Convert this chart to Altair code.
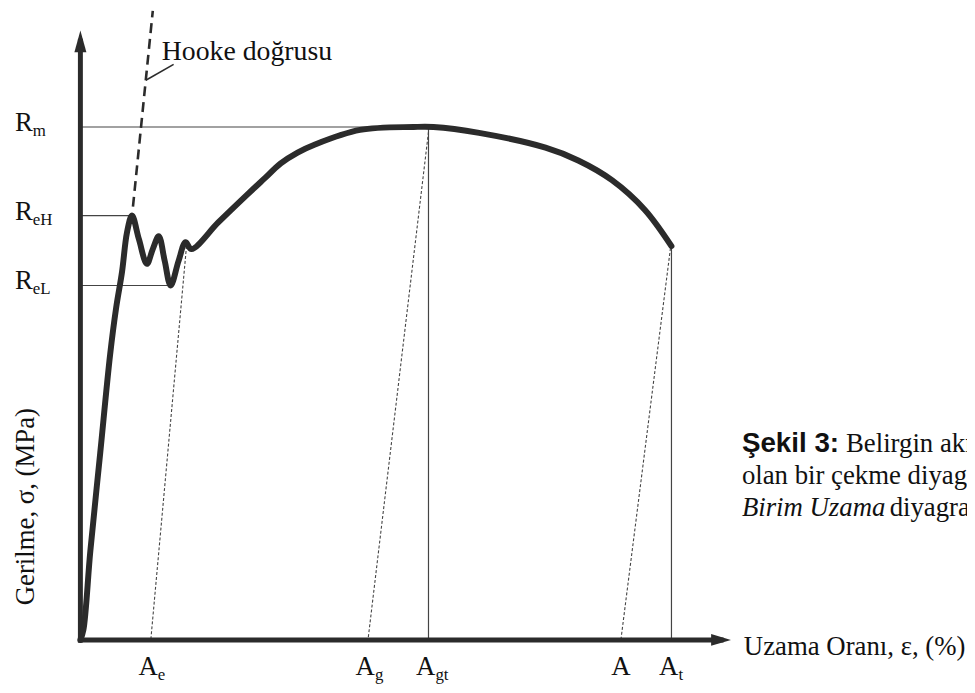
import altair as alt
import pandas as pd

# ---------------- data (strain, stress in arbitrary units) ----------------
strain = [0, 3, 10, 20, 30, 36, 42, 47, 52, 59, 67, 73, 79, 85, 91, 99, 106, 112,
          139, 169, 186, 202, 219, 236, 282, 336, 356, 402, 469, 502, 536, 569, 596]
stress = [0, 10, 90, 190, 290, 337, 374, 414, 431, 407, 382, 397, 410, 385, 360, 385, 404, 397,
          424, 453, 469, 484, 495, 503, 518, 521, 521, 515, 500, 487, 467, 437, 400]

# characteristic stresses
R_names = ["m", "eH", "eL"]
R_values = [521, 431, 360]
R_line_end = [351, 52, 91]

# characteristic elongations
A_names = ["e", "g", "gt", "", "t"]
A_values = [71, 290, 351, 545, 596]

# unloading (dashed) lines: start point on the curve -> elongation on axis
unload_top_strain = [107, 351, 595]
unload_top_stress = [400, 516, 398]
unload_bottom = [71, 290, 545]

# vertical solid lines (A_gt, A_t)
vert_x = [351, 596]
vert_top = [521, 400]

# Hooke line segment (dashed part)
hooke_strain = [53, 73]
hooke_stress = [440, 639]

# axis extents
X_AXIS_END = 646
Y_AXIS_END = 608

XS = alt.Scale(domain=[-73, 894], nice=False, zero=False)
YS = alt.Scale(domain=[-46, 639], nice=False, zero=False)

SERIF = "Liberation Serif"
SANS = "Liberation Sans"
INK = "#2b2b2b"
TXT = "#111"
FS = 27


def X(f):
    return alt.X(f, type="quantitative", scale=XS, axis=None)


def Y(f):
    return alt.Y(f, type="quantitative", scale=YS, axis=None)


curve_df = pd.DataFrame({"e": strain, "s": stress, "i": range(len(strain))})
hlines = pd.DataFrame({"y": R_values, "x2": R_line_end, "x1": [0] * 3, "n": R_names})
vlines = pd.DataFrame({"x": vert_x, "y2": vert_top, "y1": [0] * 2})
unload = pd.DataFrame({"xt": unload_top_strain, "yt": unload_top_stress,
                       "xb": unload_bottom, "yb": [0] * 3})
hooke = pd.DataFrame({"x1": [hooke_strain[0]], "x2": [hooke_strain[1]],
                      "y1": [hooke_stress[0]], "y2": [hooke_stress[1]]})
axes_df = pd.DataFrame({"x1": [0, 0], "x2": [X_AXIS_END, 0],
                        "y1": [0, 0], "y2": [0, Y_AXIS_END]})
arrow_y = pd.DataFrame({"x": [0], "y": [Y_AXIS_END]})
arrow_x = pd.DataFrame({"x": [X_AXIS_END], "y": [0]})
r_df = pd.DataFrame({"v": R_values, "sub": R_names, "main": ["R"] * 3})
a_df = pd.DataFrame({"v": A_values, "sub": A_names, "main": ["A"] * 5})
a_sub_df = a_df[a_df["sub"] != ""]
a_plain_df = a_df[a_df["sub"] == ""]

thin_h = alt.Chart(hlines).mark_rule(color="#444", strokeWidth=1.2).encode(
    x=X("x1"), x2="x2", y=Y("y"))
thin_v = alt.Chart(vlines).mark_rule(color="#444", strokeWidth=1.2).encode(
    x=X("x"), y=Y("y1"), y2="y2")
dashed = alt.Chart(unload).mark_rule(color="#444", strokeWidth=1.1, strokeDash=[3, 2]).encode(
    x=X("xt"), y=Y("yt"), x2="xb", y2="yb")
hooke_l = alt.Chart(hooke).mark_rule(color=INK, strokeWidth=2.6, strokeDash=[10, 6]).encode(
    x=X("x1"), y=Y("y1"), x2="x2", y2="y2")
leader = alt.Chart(hooke).mark_rule(color=INK, strokeWidth=1.6).encode(
    x=alt.value(139), y=alt.value(70), x2=alt.value(167), y2=alt.value(54))

axes = alt.Chart(axes_df).mark_rule(color=INK, strokeWidth=5, strokeCap="square").encode(
    x=X("x1"), y=Y("y1"), x2="x2", y2="y2")
arr_y = alt.Chart(arrow_y).mark_point(
    shape="M0,-1L0.55,1L-0.55,1Z", filled=True, opacity=1, color=INK, size=484).encode(
    x=X("x"), y=Y("y"))
arr_x = alt.Chart(arrow_x).mark_point(
    shape="M1,0L-1,0.6L-1,-0.6Z", filled=True, opacity=1, color=INK, size=400).encode(
    x=X("x"), y=Y("y"))

curve = alt.Chart(curve_df).mark_line(
    color=INK, strokeWidth=6, interpolate="catmull-rom", strokeCap="round",
    strokeJoin="round").encode(x=X("e"), y=Y("s"), order="i:Q")

# labels R
r_main = alt.Chart(r_df).mark_text(font=SERIF, fontSize=FS, align="left", dy=4,
                                    baseline="alphabetic", color=TXT).encode(
    x=alt.value(7), y=Y("v"), text="main:N")
r_sub = alt.Chart(r_df).mark_text(font=SERIF, fontSize=17, align="left", dy=9,
                                   baseline="alphabetic", color=TXT).encode(
    x=alt.value(25), y=Y("v"), text="sub:N")

# labels A
a_main = alt.Chart(a_sub_df).mark_text(font=SERIF, fontSize=FS, align="right", dx=7,
                                        baseline="alphabetic", color=TXT).encode(
    x=X("v"), y=alt.value(670), text="main:N")
a_sub = alt.Chart(a_sub_df).mark_text(font=SERIF, fontSize=17, align="left", dx=7,
                                       baseline="alphabetic", color=TXT).encode(
    x=X("v"), y=alt.value(675), text="sub:N")
a_plain = alt.Chart(a_plain_df).mark_text(font=SERIF, fontSize=FS, align="center",
                                           baseline="alphabetic", color=TXT).encode(
    x=X("v"), y=alt.value(670), text="main:N")

# other texts
txt = pd.DataFrame({"t": ["Hooke doğrusu"]})
hooke_t = alt.Chart(txt).mark_text(font=SERIF, fontSize=28, align="left",
                                    baseline="alphabetic", color=TXT).encode(
    x=alt.value(155), y=alt.value(50), text=alt.value("Hooke doğrusu"))
xlab = alt.Chart(txt).mark_text(font=SERIF, fontSize=FS, align="left",
                                 baseline="alphabetic", color=TXT).encode(
    x=alt.value(742), y=alt.value(650), text=alt.value("Uzama Oranı, ε, (%)"))
ylab = alt.Chart(txt).mark_text(font=SERIF, fontSize=FS, align="center", angle=270,
                                 baseline="middle", color=TXT).encode(
    x=alt.value(18), y=alt.value(500), text=alt.value("Gerilme, σ, (MPa)"))

cap1a = alt.Chart(txt).mark_text(font=SANS, fontSize=28, fontWeight="bold", align="left",
                                  baseline="alphabetic", color=TXT).encode(
    x=alt.value(740), y=alt.value(445), text=alt.value("Şekil 3:"))
cap1b = alt.Chart(txt).mark_text(font=SERIF, fontSize=FS, align="left",
                                  baseline="alphabetic", color=TXT).encode(
    x=alt.value(845), y=alt.value(445), text=alt.value("Belirgin akma noktası"))
cap2 = alt.Chart(txt).mark_text(font=SERIF, fontSize=FS, align="left",
                                 baseline="alphabetic", color=TXT).encode(
    x=alt.value(740), y=alt.value(477), text=alt.value("olan bir çekme diyagramı"))
cap3a = alt.Chart(txt).mark_text(font=SERIF, fontSize=FS, fontStyle="italic", align="left",
                                  baseline="alphabetic", color=TXT).encode(
    x=alt.value(740), y=alt.value(509), text=alt.value("Birim Uzama"))
cap3b = alt.Chart(txt).mark_text(font=SERIF, fontSize=FS, align="left",
                                  baseline="alphabetic", color=TXT).encode(
    x=alt.value(889), y=alt.value(509), text=alt.value("diyagramı"))

chart = alt.layer(
    thin_h, thin_v, dashed, hooke_l, leader, axes, arr_y, arr_x, curve,
    r_main, r_sub, a_main, a_sub, a_plain, hooke_t, xlab, ylab,
    cap1a, cap1b, cap2, cap3a, cap3b
).properties(
    width=967, height=680, padding=0,
    autosize=alt.AutoSizeParams(type="none"),
    background="white"
).configure_view(stroke=None)

chart.save("out.html", embed_options={"renderer": "svg", "actions": False})
